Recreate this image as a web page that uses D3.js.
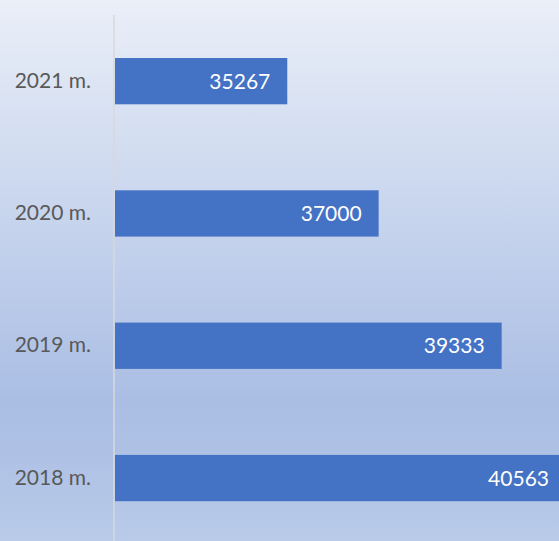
<!DOCTYPE html>
<html>
<head>
<meta charset="utf-8">
<script src="https://cdn.jsdelivr.net/npm/d3@7"></script>
<style>
  html, body { margin: 0; padding: 0; overflow: hidden; }
</style>
</head>
<body>
<div id="chart"></div>
<script>
// chart data
const years = ["2021 m.", "2020 m.", "2019 m.", "2018 m."];
const values = [35267, 37000, 39333, 40563];
const xDomain = [32000, 42000];

const width = 559;
const height = 541;
const margin = { top: 15, left: 115 };

const svg = d3.select("#chart")
    .append("svg")
    .attr("width", width)
    .attr("height", height);

// background gradient
const grad = svg.append("defs").append("linearGradient")
    .attr("id", "bg")
    .attr("x1", 0).attr("y1", 0).attr("x2", 0).attr("y2", 1);
[
    [0, "#eaeff8"],
    [0.74, "#aabee4"],
    [0.83, "#aec1e5"],
    [1, "#b9cbe9"]
].forEach(([o, c]) => grad.append("stop").attr("offset", o).attr("stop-color", c));

svg.append("rect").attr("width", width).attr("height", height).attr("fill", "url(#bg)");

const x = d3.scaleLinear().domain(xDomain).range([margin.left, margin.left + 527.3]);
const y = d3.scaleBand().domain(years).range([margin.top, margin.top + 529.2]).paddingInner(0.65).paddingOuter(0.325);

// bars
svg.selectAll(".bar")
    .data(values)
    .join("rect")
    .attr("class", "bar")
    .attr("x", x(xDomain[0]))
    .attr("y", (d, i) => y(years[i]))
    .attr("width", (d) => x(d) - x(xDomain[0]))
    .attr("height", y.bandwidth())
    .attr("fill", "#4472c4");

// value labels
svg.selectAll(".val")
    .data(values)
    .join("text")
    .attr("class", "val")
    .attr("x", (d) => Math.min(x(d), width + 7) - 17)
    .attr("y", (d, i) => y(years[i]) + y.bandwidth() / 2)
    .attr("dy", "0.36em")
    .attr("text-anchor", "end")
    .attr("font-family", "Lato, sans-serif")
    .attr("font-size", 21)
    .attr("fill", "#ffffff")
    .text((d) => d);

// category axis
const axis = svg.append("g")
    .attr("transform", `translate(${margin.left - 1},0)`)
    .call(d3.axisLeft(y).tickSize(0).tickPadding(23));
axis.select(".domain").remove();
axis.append("line")
    .attr("x1", 0).attr("x2", 0)
    .attr("y1", margin.top).attr("y2", height)
    .attr("stroke", "#d9d9d9")
    .attr("stroke-width", 1.5);
axis.selectAll("text")
    .attr("font-family", "Lato, sans-serif")
    .attr("font-size", 21)
    .attr("fill", "#595959");
</script>
</body>
</html>
